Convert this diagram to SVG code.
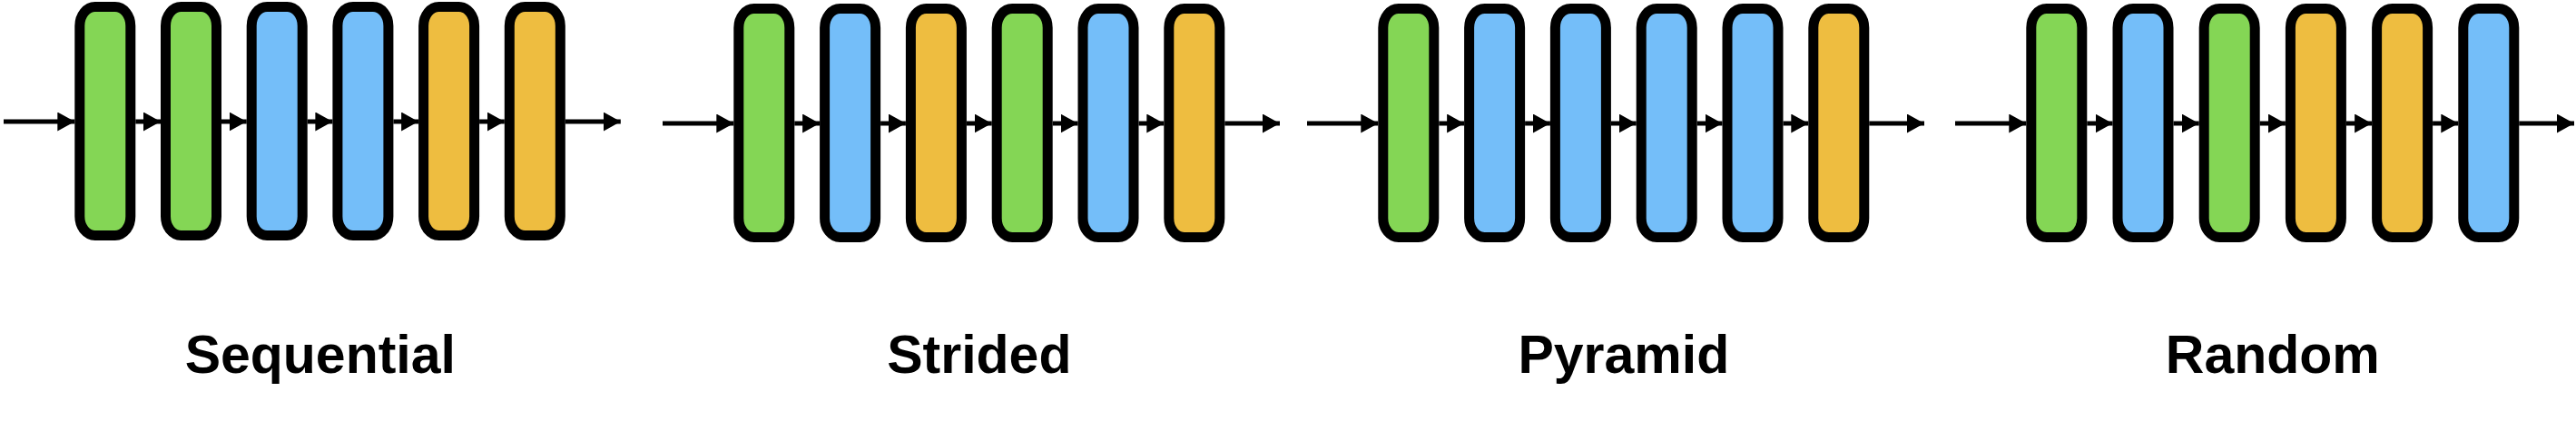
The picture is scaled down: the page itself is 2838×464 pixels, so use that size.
<svg xmlns="http://www.w3.org/2000/svg" width="2838" height="464" viewBox="0 0 2838 464">
  <style>
    .blk { stroke: #000; stroke-width: 11; }
    .g { fill: #84D655; }
    .b { fill: #74BEF9; }
    .y { fill: #EEBD40; }
    .arr { stroke: #000; stroke-width: 5; fill: none; marker-end: url(#ah); }
    .lbl { font-family: "Liberation Sans", Arial, sans-serif; font-weight: bold; font-size: 59px; fill: #000; text-anchor: middle; }
  </style>
  <defs>
    <marker id="ah" markerUnits="userSpaceOnUse" markerWidth="19" markerHeight="21" refX="19" refY="10.5" orient="auto">
      <path d="M0,0 L19,10.5 L0,21 Z" fill="#000"/>
    </marker>
  </defs>
  <rect width="2838" height="464" fill="#fff"/>

  <g id="connectors">
    <line class="arr" x1="4" y1="134" x2="82.3" y2="134"/>
    <line class="arr" x1="149.3" y1="134" x2="177" y2="134"/>
    <line class="arr" x1="244" y1="134" x2="271.7" y2="134"/>
    <line class="arr" x1="338.7" y1="134" x2="366.4" y2="134"/>
    <line class="arr" x1="433.4" y1="134" x2="461.1" y2="134"/>
    <line class="arr" x1="528.1" y1="134" x2="555.8" y2="134"/>
    <line class="arr" x1="622.8" y1="134" x2="683.8" y2="134"/>

    <line class="arr" x1="730" y1="136" x2="808.3" y2="136"/>
    <line class="arr" x1="875.3" y1="136" x2="903.1" y2="136"/>
    <line class="arr" x1="970.1" y1="136" x2="997.9" y2="136"/>
    <line class="arr" x1="1064.9" y1="136" x2="1092.7" y2="136"/>
    <line class="arr" x1="1159.7" y1="136" x2="1187.5" y2="136"/>
    <line class="arr" x1="1254.5" y1="136" x2="1282.3" y2="136"/>
    <line class="arr" x1="1349.3" y1="136" x2="1410" y2="136"/>

    <line class="arr" x1="1440" y1="136" x2="1518.3" y2="136"/>
    <line class="arr" x1="1585.3" y1="136" x2="1613.1" y2="136"/>
    <line class="arr" x1="1680.1" y1="136" x2="1707.9" y2="136"/>
    <line class="arr" x1="1774.9" y1="136" x2="1802.7" y2="136"/>
    <line class="arr" x1="1869.7" y1="136" x2="1897.5" y2="136"/>
    <line class="arr" x1="1964.5" y1="136" x2="1992.3" y2="136"/>
    <line class="arr" x1="2059.3" y1="136" x2="2120" y2="136"/>

    <line class="arr" x1="2154" y1="136" x2="2232.3" y2="136"/>
    <line class="arr" x1="2299.3" y1="136" x2="2327.5" y2="136"/>
    <line class="arr" x1="2394.5" y1="136" x2="2422.7" y2="136"/>
    <line class="arr" x1="2489.7" y1="136" x2="2517.9" y2="136"/>
    <line class="arr" x1="2584.9" y1="136" x2="2613.1" y2="136"/>
    <line class="arr" x1="2680.1" y1="136" x2="2708.3" y2="136"/>
    <line class="arr" x1="2775.3" y1="136" x2="2836" y2="136"/>
  </g>

  <g id="sequential">
    <rect id="seq-1" class="blk g" x="87.8" y="7.5" width="56" height="252" rx="17" ry="21"/>
    <rect id="seq-2" class="blk g" x="182.5" y="7.5" width="56" height="252" rx="17" ry="21"/>
    <rect id="seq-3" class="blk b" x="277.2" y="7.5" width="56" height="252" rx="17" ry="21"/>
    <rect id="seq-4" class="blk b" x="371.9" y="7.5" width="56" height="252" rx="17" ry="21"/>
    <rect id="seq-5" class="blk y" x="466.6" y="7.5" width="56" height="252" rx="17" ry="21"/>
    <rect id="seq-6" class="blk y" x="561.3" y="7.5" width="56" height="252" rx="17" ry="21"/>
    <text class="lbl" x="352.8" y="411">Sequential</text>
  </g>

  <g id="strided">
    <rect id="str-1" class="blk g" x="813.8" y="9.5" width="56" height="252" rx="17" ry="21"/>
    <rect id="str-2" class="blk b" x="908.6" y="9.5" width="56" height="252" rx="17" ry="21"/>
    <rect id="str-3" class="blk y" x="1003.4" y="9.5" width="56" height="252" rx="17" ry="21"/>
    <rect id="str-4" class="blk g" x="1098.2" y="9.5" width="56" height="252" rx="17" ry="21"/>
    <rect id="str-5" class="blk b" x="1193" y="9.5" width="56" height="252" rx="17" ry="21"/>
    <rect id="str-6" class="blk y" x="1287.8" y="9.5" width="56" height="252" rx="17" ry="21"/>
    <text class="lbl" x="1078.8" y="411">Strided</text>
  </g>

  <g id="pyramid">
    <rect id="pyr-1" class="blk g" x="1523.8" y="9.5" width="56" height="252" rx="17" ry="21"/>
    <rect id="pyr-2" class="blk b" x="1618.6" y="9.5" width="56" height="252" rx="17" ry="21"/>
    <rect id="pyr-3" class="blk b" x="1713.4" y="9.5" width="56" height="252" rx="17" ry="21"/>
    <rect id="pyr-4" class="blk b" x="1808.2" y="9.5" width="56" height="252" rx="17" ry="21"/>
    <rect id="pyr-5" class="blk b" x="1903" y="9.5" width="56" height="252" rx="17" ry="21"/>
    <rect id="pyr-6" class="blk y" x="1997.8" y="9.5" width="56" height="252" rx="17" ry="21"/>
    <text class="lbl" x="1788.8" y="411">Pyramid</text>
  </g>

  <g id="random">
    <rect id="rnd-1" class="blk g" x="2237.8" y="9.5" width="56" height="252" rx="17" ry="21"/>
    <rect id="rnd-2" class="blk b" x="2333" y="9.5" width="56" height="252" rx="17" ry="21"/>
    <rect id="rnd-3" class="blk g" x="2428.2" y="9.5" width="56" height="252" rx="17" ry="21"/>
    <rect id="rnd-4" class="blk y" x="2523.4" y="9.5" width="56" height="252" rx="17" ry="21"/>
    <rect id="rnd-5" class="blk y" x="2618.6" y="9.5" width="56" height="252" rx="17" ry="21"/>
    <rect id="rnd-6" class="blk b" x="2713.8" y="9.5" width="56" height="252" rx="17" ry="21"/>
    <text class="lbl" x="2503.8" y="411">Random</text>
  </g>
</svg>
